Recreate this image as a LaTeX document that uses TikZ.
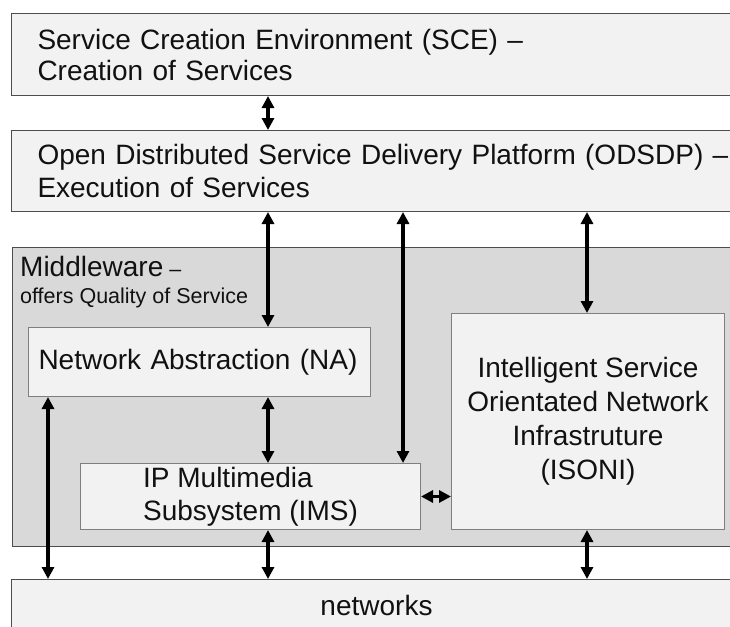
\documentclass[tikz,border=0pt]{standalone}
\usepackage{fontspec}
\setmainfont{Liberation Sans}
\usetikzlibrary{arrows.meta}
\definecolor{boxfill}{HTML}{F2F2F2}
\definecolor{mwfill}{HTML}{D9D9D9}
\definecolor{edgecol}{HTML}{4D4D4D}
\definecolor{inedge}{HTML}{7F7F7F}
\definecolor{txt}{HTML}{111111}
\begin{document}
\begin{tikzpicture}[x=1pt,y=-1pt,
  box/.style={rectangle, draw=edgecol, fill=boxfill, line width=1pt, anchor=north west,
    inner ysep=0pt, text=txt, font=\fontsize{28}{33}\selectfont},
  layerbox/.style={box, inner xsep=26pt, text width=720pt, align=left},
  innerbox/.style={box, draw=inedge},
  arr/.style={line width=3.2pt, {Triangle[length=12pt,width=12pt]}-{Triangle[length=12pt,width=12pt]}}
]
\useasboundingbox (0,0) rectangle (730,626);
\clip (0,0) rectangle (730,626);

\node[layerbox, minimum height=82pt, font=\fontsize{28}{31}\selectfont] (sce) at (11,13)
  {Service Creation Environment (SCE) --\\Creation of Services};
\node[layerbox, minimum height=81pt] (odsdp) at (11,130)
  {Open Distributed Service Delivery Platform (ODSDP) --\\Execution of Services};

\node[box, fill=mwfill, minimum width=760pt, minimum height=299pt] (mw) at (12,247) {};
\node[anchor=north west, inner sep=0pt, align=left, text=txt, font=\fontsize{21.5}{27}\selectfont] (mwlabel) at (20,256)
  {{\fontsize{28}{27}\selectfont Middleware} --\\offers Quality of Service};

\node[innerbox, inner xsep=10pt, text width=322pt, minimum height=69pt, align=left] (na) at (28,327)
  {Network Abstraction (NA)};
\node[innerbox, minimum width=340pt, minimum height=66pt, align=left] (ims) at (80,463)
  {IP Multimedia\\Subsystem (IMS)};
\node[innerbox, minimum width=273pt, minimum height=216pt, align=center, font=\fontsize{28}{34}\selectfont] (isoni) at (451,313)
  {Intelligent Service\\Orientated Network\\Infrastruture\\(ISONI)};

\node[box, minimum width=730pt, minimum height=51pt] (net) at (11,579) {networks};

\coordinate (xa) at (268,0);
\coordinate (xb) at (403,0);
\coordinate (xc) at (587,0);
\coordinate (xd) at (48,0);

\draw[arr] (sce.south -| xa) -- (odsdp.north -| xa);
\draw[arr] (odsdp.south -| xa) -- (na.north -| xa);
\draw[arr] (odsdp.south -| xb) -- (ims.north -| xb);
\draw[arr] (odsdp.south -| xc) -- (isoni.north -| xc);
\draw[arr] (na.south -| xd) -- (net.north -| xd);
\draw[arr] (na.south -| xa) -- (ims.north -| xa);
\draw[arr] (ims.south -| xa) -- (net.north -| xa);
\draw[arr] (isoni.south -| xc) -- (net.north -| xc);
\draw[arr] (ims.east) -- (isoni.west |- ims.east);
\end{tikzpicture}
\end{document}
